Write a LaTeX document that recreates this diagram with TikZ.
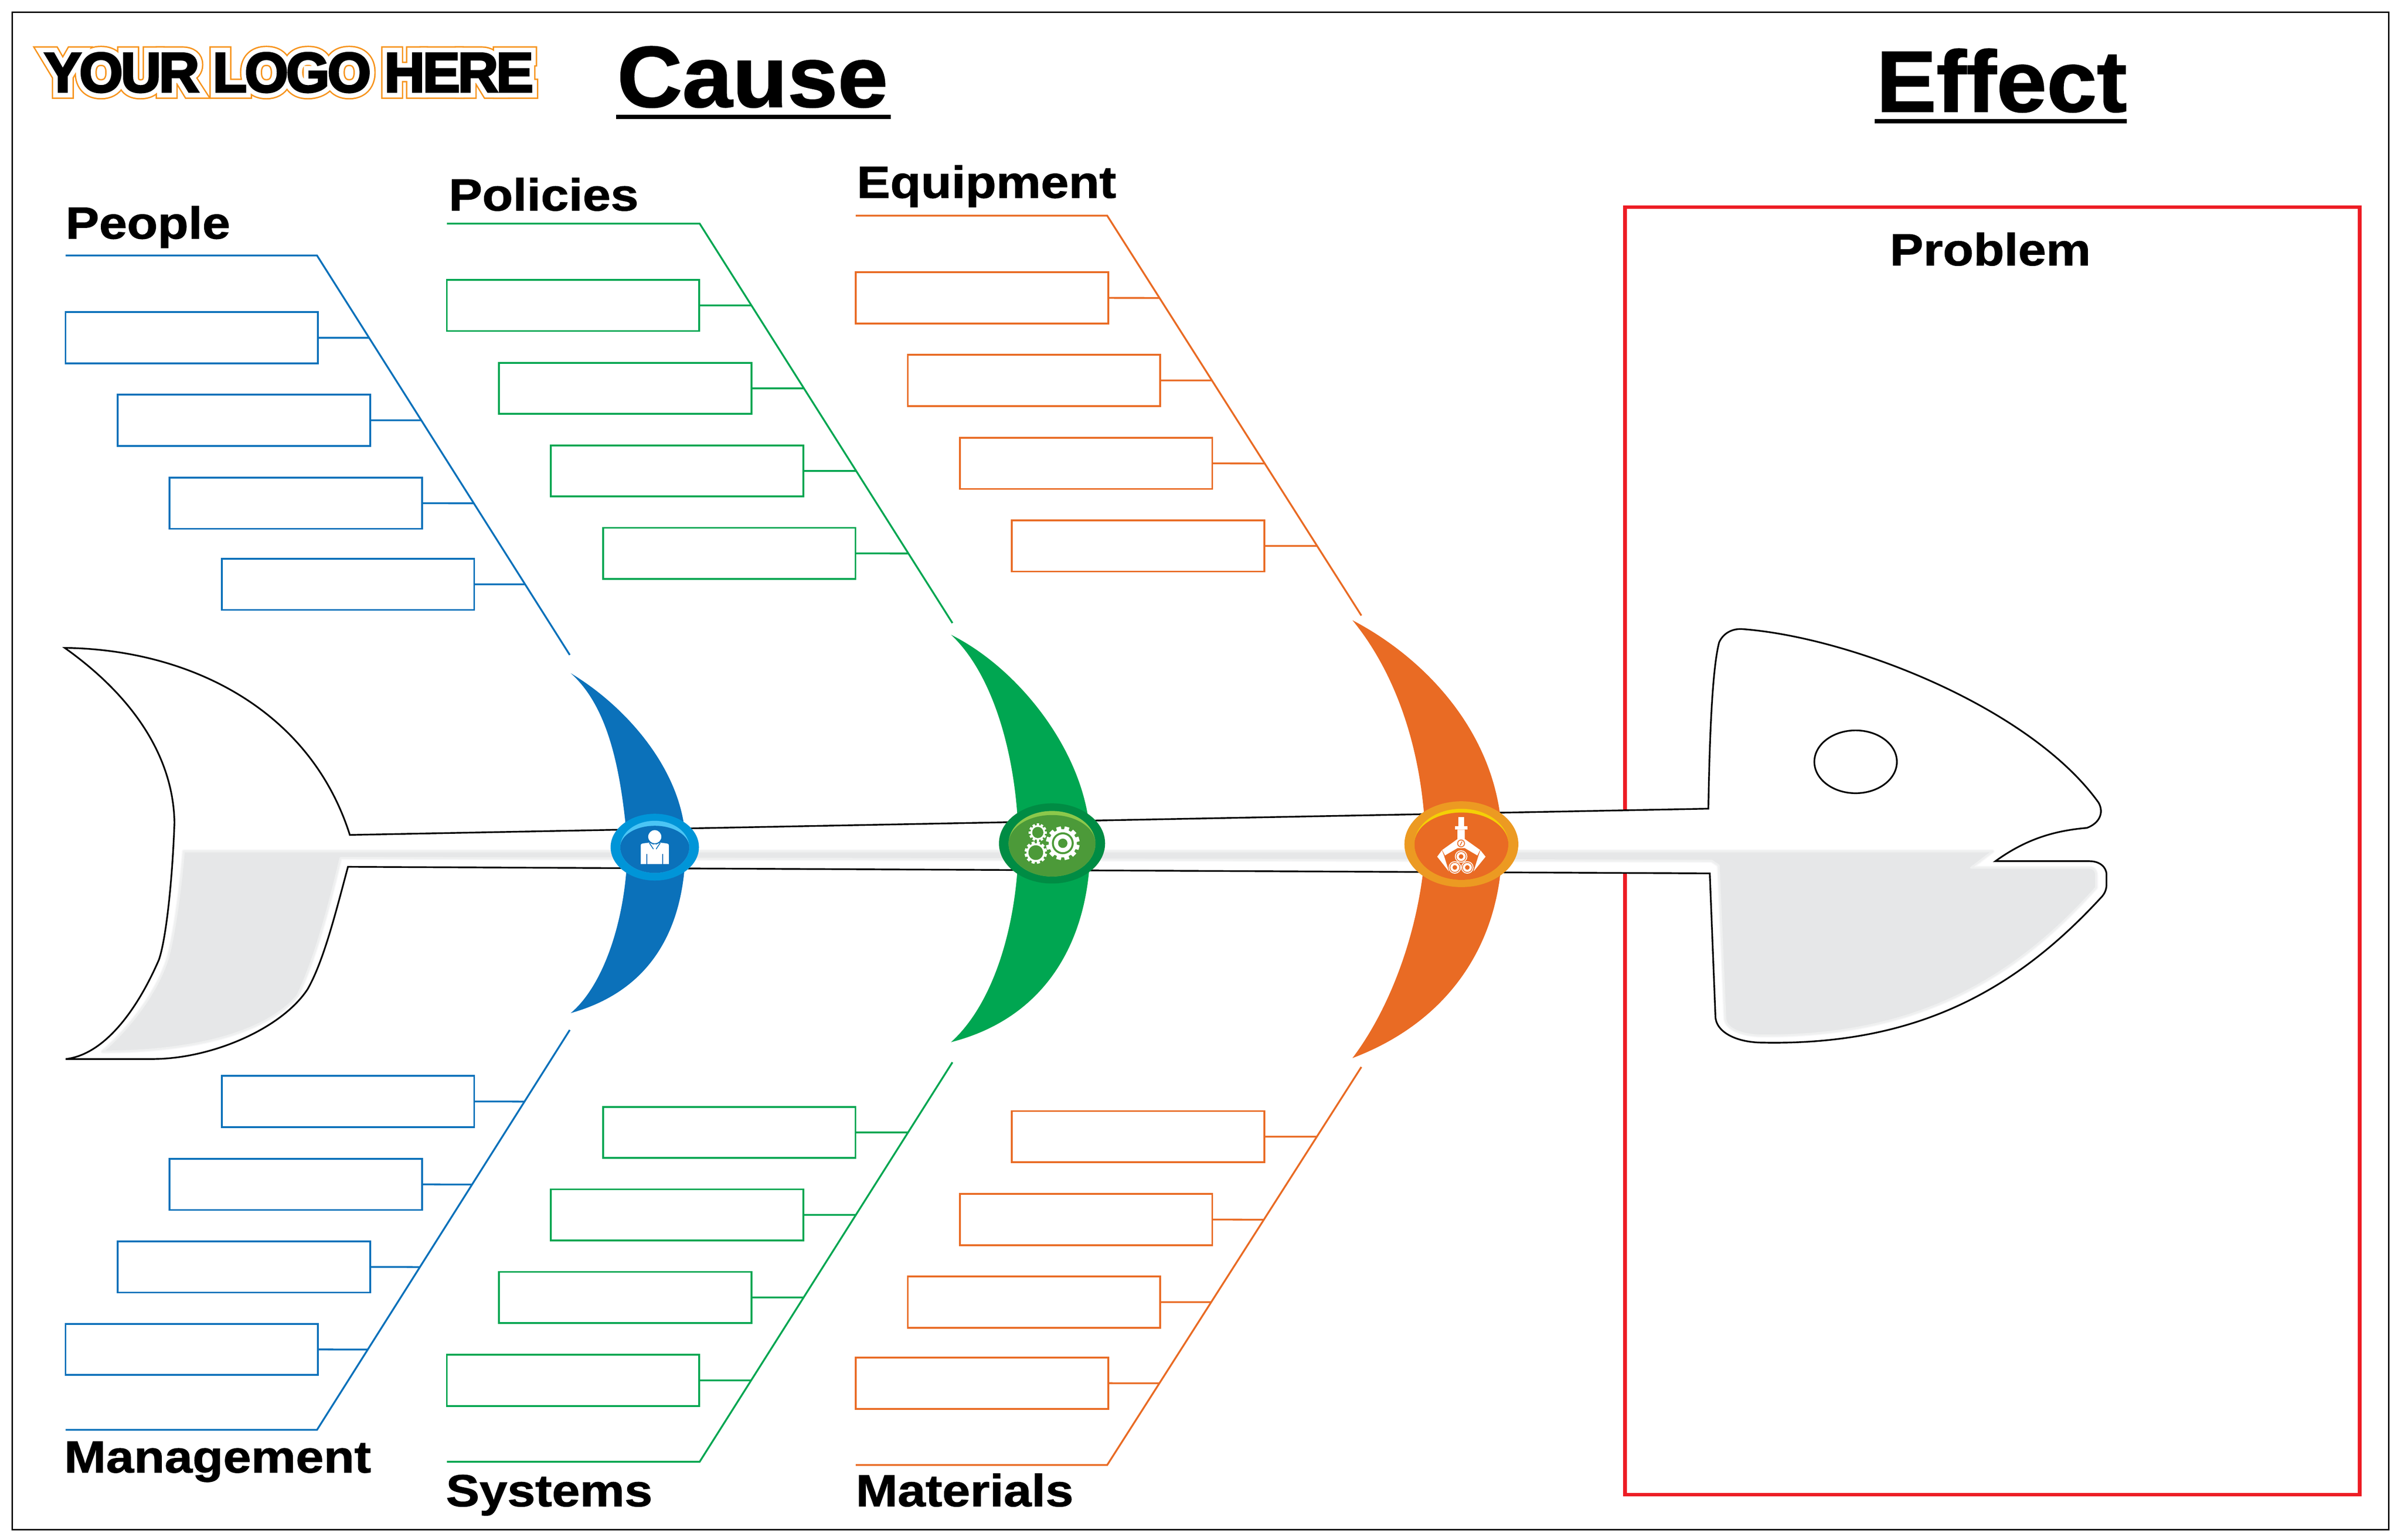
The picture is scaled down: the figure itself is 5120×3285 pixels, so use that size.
\documentclass[tikz,border=0pt]{standalone}
\usepackage{fontspec}
\setmainfont{Liberation Sans}
\newfontfamily\lblfont[FakeStretch=1.115,FakeBold=1.2]{Liberation Sans}
\newfontfamily\ttlfont[FakeStretch=1.04,FakeBold=1.2]{Liberation Sans}
\newfontfamily\logoO[LetterSpace=-4,FakeBold=25]{Liberation Sans Bold}
\newfontfamily\logoW[LetterSpace=-4,FakeBold=20]{Liberation Sans Bold}
\newfontfamily\logoK[LetterSpace=-4,FakeBold=3.5]{Liberation Sans Bold}
\definecolor{cblue}{HTML}{0B71BA}
\definecolor{cblueO}{HTML}{0095D8}
\definecolor{cblueL}{HTML}{4BC5F5}
\definecolor{cgreen}{HTML}{00A651}
\definecolor{cgreenO}{HTML}{008C44}
\definecolor{cgreenI}{HTML}{4C9A39}
\definecolor{cgreenL}{HTML}{8CC84B}
\definecolor{corange}{HTML}{E96B24}
\definecolor{corangeO}{HTML}{EC9A22}
\definecolor{corangeL}{HTML}{F4D006}
\definecolor{cred}{HTML}{ED1C24}
\definecolor{cgray}{HTML}{E6E7E8}
\definecolor{cgrayS}{HTML}{EFF0F0}
\definecolor{cgrayT}{HTML}{F7F7F8}
\definecolor{clogo}{HTML}{F7941D}
\usetikzlibrary{calc}
\tikzset{
 cbox/.style={draw=#1,line width=1.1pt,minimum width=5.38cm,minimum height=1.09cm,inner sep=0pt,outer sep=0pt,fill=white},
 bone/.style={draw=#1,line width=1.1pt},
 lbl/.style={inner sep=0pt,outer sep=0pt,anchor=base west,font=\lblfont\bfseries\fontsize{27.3}{30}\selectfont},
 ttl/.style={inner sep=0pt,outer sep=0pt,anchor=base west,font=\ttlfont\bfseries\fontsize{52.6}{56}\selectfont},
 logo/.style={inner sep=0pt,outer sep=0pt,anchor=base west},
 fishline/.style={draw=black,line width=1pt,line join=miter},
 fishbody/.style={insert path={
 (138,1382) .. controls (400,1385) and (660,1510) .. (746,1781)
 -- (3643,1725)
 .. controls (3645,1600) and (3650,1430) .. (3666,1370)
 .. controls (3675,1350) and (3695,1340) .. (3717,1342)
 .. controls (3950,1360) and (4330,1510) .. (4475,1712)
 .. controls (4488,1735) and (4475,1757) .. (4450,1766)
 .. controls (4380,1772) and (4320,1790) .. (4255,1837)
 -- (4456,1837)
 .. controls (4478,1837) and (4492,1850) .. (4492,1866)
 -- (4492,1886)
 .. controls (4492,1898) and (4488,1907) .. (4479,1916)
 .. controls (4300,2110) and (4090,2230) .. (3760,2224)
 .. controls (3700,2224) and (3658,2200) .. (3658,2167)
 -- (3646,1863) -- (742,1849)
 .. controls (715,1950) and (690,2050) .. (656,2110)
 .. controls (600,2195) and (450,2259) .. (325,2259)
 -- (140,2259)
 .. controls (220,2250) and (290,2160) .. (339,2047)
 .. controls (355,2000) and (368,1870) .. (372,1755)
 .. controls (370,1620) and (290,1490) .. (138,1382) -- cycle}},
 fishshade/.style={insert path={
 (392,1816) -- (4249,1816) -- (4203,1851) -- (4455,1851)
 .. controls (4465,1851) and (4470,1858) .. (4470,1868) -- (4470,1893)
 .. controls (4290,2095) and (4080,2210) .. (3760,2209)
 .. controls (3715,2209) and (3679,2195) .. (3679,2171)
 -- (3665,1846) -- (3650,1836) -- (726,1830)
 .. controls (700,1940) and (670,2050) .. (634,2124)
 .. controls (570,2200) and (420,2243) .. (219,2243)
 .. controls (280,2190) and (340,2110) .. (360,2037)
 .. controls (372,1990) and (385,1900) .. (392,1816) -- cycle}},
}
\newcommand{\bonegroup}[8]{%
 \coordinate (#1hl) at (#3,#5);
 \coordinate (#1hr) at (#4,#5);
 \coordinate (#1end) at (#6,#7);
 \draw[bone=#2] (#1hl) -- (#1hr) -- (#1end);
 \foreach \n/\l/\t in {#8}{
  \node[cbox=#2] (#1\n) at (\l+269,\t+54.5) {};
  \draw[bone=#2] (#1\n.east) -- (intersection cs:first line={(#1\n.east)--(#1\n.west)},second line={(#1hr)--(#1end)});
 }%
}
\newcommand{\geartool}[6]{%
 \fill[white] (#1,#2) circle[radius=#4];
 \foreach \a in {0,30,...,330}{\fill[white,rotate around={\a+#6:(#1,#2)}] (#1-#3*0.14,#2-#3) rectangle (#1+#3*0.14,#2);}
 \fill[cgreenI] (#1,#2) circle[radius=#5];
}
\begin{document}
\begin{tikzpicture}[x=0.01cm,y=-0.01cm]
\useasboundingbox (0,0) rectangle (5120,3285);
\fill[white] (0,0) rectangle (5120,3285);
\draw[black,line width=0.9pt] (26,26) rectangle (5094,3263);
% problem box
\coordinate (rA) at (3465,442);
\coordinate (rB) at (5032,3188);
\draw[cred,line width=2.2pt] (rA) rectangle (rB);
% fish body
\path[fill=white,fishbody];
\path[draw=cgrayT,line width=2.4pt,line join=round,fishshade];
\path[fill=cgray,draw=cgrayS,line width=1.2pt,line join=round,fishshade];
\path[fishline,fishbody];
\draw[fishline] (3957,1625) ellipse[x radius=88,y radius=67];
% crescents
\fill[cblue] (1217,1436) .. controls (1340,1510) and (1460,1650) .. (1462,1800) .. controls (1462,1965) and (1400,2110) .. (1217,2161) .. controls (1290,2100) and (1338,1950) .. (1338,1800) .. controls (1325,1650) and (1300,1510) .. (1217,1436) -- cycle;
\fill[cgreen] (2028,1354) .. controls (2180,1430) and (2325,1620) .. (2325,1800) .. controls (2325,2000) and (2235,2170) .. (2028,2223) .. controls (2120,2140) and (2170,1970) .. (2172,1800) .. controls (2170,1620) and (2120,1440) .. (2028,1354) -- cycle;
\fill[corange] (2884,1323) .. controls (3050,1410) and (3203,1580) .. (3203,1800) .. controls (3203,2000) and (3100,2175) .. (2884,2257) .. controls (2965,2150) and (3030,1980) .. (3040,1800) .. controls (3036,1610) and (2980,1440) .. (2884,1323) -- cycle;
% blue hub
\begin{scope}[shift={(1150,1650)},x=0.003333cm,y=-0.003333cm]
 \fill[cblueO] (740,472) ellipse[x radius=283,y radius=214];
 \fill[cblueL] (519,472) arc[start angle=180,end angle=360,x radius=221,y radius=169] arc[start angle=0,end angle=180,x radius=221,y radius=165] -- cycle;
 \fill[cblue] (519,472) arc[start angle=180,end angle=360,x radius=221,y radius=137] arc[start angle=0,end angle=180,x radius=221,y radius=165] -- cycle;
 \fill[white] (740,405) circle[radius=42];
 \fill[white] (650,580) -- (650,462) .. controls (650,452) and (656,449) .. (664,448) -- (704,443) -- (740,460) -- (776,443) -- (816,448) .. controls (824,449) and (830,452) .. (830,462) -- (830,580) -- cycle;
 \draw[cblue,line width=0.5pt] (705,445) -- (732,485);
 \draw[cblue,line width=0.5pt] (775,445) -- (748,485);
 \fill[white] (732,453) -- (748,453) -- (745,465) -- (748,487) -- (732,487) -- (735,465) -- cycle;
 \fill[cblue] (685,517) rectangle (691,580);
 \fill[cblue] (789,517) rectangle (795,580);
\end{scope}
% green hub
\begin{scope}[shift={(2050,1650)},x=0.003333cm,y=-0.003333cm]
 \fill[cgreenO] (581,448) ellipse[x radius=340,y radius=257];
 \fill[cgreenL] (303,448) arc[start angle=180,end angle=360,x radius=278,y radius=208] arc[start angle=0,end angle=180,x radius=278,y radius=212] -- cycle;
 \fill[cgreenI] (303,448) arc[start angle=180,end angle=360,x radius=278,y radius=182] arc[start angle=0,end angle=180,x radius=278,y radius=212] -- cycle;
 \geartool{650}{447}{108}{90}{70}{15}
 \fill[white] (650,447) circle[radius=57];
 \fill[cgreenI] (650,447) circle[radius=30];
 \geartool{490}{378}{58}{47}{36}{0}
 \geartool{477}{507}{72}{60}{47}{15}
\end{scope}
% orange hub
\begin{scope}[shift={(2900,1650)},x=0.003333cm,y=-0.003333cm]
 \fill[corangeO] (650,453) ellipse[x radius=365,y radius=275];
 \fill[corangeL] (349,453) arc[start angle=180,end angle=360,x radius=301,y radius=227] arc[start angle=0,end angle=180,x radius=301,y radius=229] -- cycle;
 \fill[corange] (349,453) arc[start angle=180,end angle=360,x radius=301,y radius=203] arc[start angle=0,end angle=180,x radius=301,y radius=229] -- cycle;
 \fill[white] (630,278) rectangle (668,337);
 \fill[white] (610,337) rectangle (688,360);
 \fill[white] (625,360) -- (672,360) -- (672,420) -- (770,490) -- (752,525) -- (672,478) -- (625,478) -- (545,525) -- (527,490) -- (625,420) -- cycle;
 \fill[white] (525,492) -- (495,533) -- (570,628) -- (538,525) -- cycle;
 \fill[white] (772,492) -- (805,533) -- (728,628) -- (760,525) -- cycle;
 \fill[white] (648,448) circle[radius=30];
 \fill[corange] (648,448) circle[radius=25];
 \fill[white] (648,448) circle[radius=19];
 \draw[corange,line width=0.5pt] (642,460) -- (654,436);
 \foreach \cx/\cy in {648/532,608/602,688/602}{
  \fill[white] (\cx,\cy) circle[radius=40];
  \fill[corange] (\cx,\cy) circle[radius=34];
  \fill[white] (\cx,\cy) circle[radius=29];
  \fill[corange] (\cx,\cy) circle[radius=15];
 }
\end{scope}
% branches
\bonegroup{pe}{cblue}{140}{676}{545}{1215}{1397}{a/140/666,b/251/842,c/362/1019,d/473/1192}
\bonegroup{ma}{cblue}{140}{676}{3050}{1215}{2197}{a/473/2295,b/362/2472,c/251/2648,d/140/2824}
\bonegroup{po}{cgreen}{953}{1492}{477}{2031}{1329}{a/953/597,b/1064/774,c/1175/950,d/1286/1126}
\bonegroup{sy}{cgreen}{953}{1492}{3118}{2031}{2266}{a/1286/2361,b/1175/2537,c/1064/2713,d/953/2890}
\bonegroup{eq}{corange}{1825}{2361}{460}{2903}{1313}{a/1825/581,b/1936/757,c/2047/934,d/2158/1110}
\bonegroup{mt}{corange}{1825}{2361}{3125}{2903}{2276}{a/2158/2370,b/2047/2547,c/1936/2723,d/1825/2896}
% labels
\node[lbl] (lPeople) at (140,509) {People};
\node[lbl] (lPolicies) at (957,449) {Policies};
\node[lbl] (lEquipment) at (1827,422) {Equipment};
\node[lbl] (lManagement) at (137,3141) {Management};
\node[lbl] (lSystems) at (951,3213) {Systems};
\node[lbl] (lMaterials) at (1825,3213) {Materials};
\node[lbl] (lProblem) at (4030,566) {Problem};
% titles
\node[ttl] (tCause) at (1316,228) {Cause};
\coordinate (cuA) at (1314,249.5);
\coordinate (cuB) at (1899,249.5);
\draw[black,line width=2.6pt] (cuA) -- (cuB);
\node[ttl] (tEffect) at (4001,238) {Effect};
\coordinate (euA) at (3998,259);
\coordinate (euB) at (4535,259);
\draw[black,line width=2.6pt] (euA) -- (euB);
% logo
\node[logo,text=clogo] (logoA) at (94,196) {\logoO\fontsize{34}{36}\selectfont YOUR LOGO HERE};
\node[logo,text=white] (logoB) at (94,196) {\logoW\fontsize{34}{36}\selectfont YOUR LOGO HERE};
\node[logo,text=black] (logoC) at (94,196) {\logoK\fontsize{34}{36}\selectfont YOUR LOGO HERE};
\end{tikzpicture}
\end{document}
